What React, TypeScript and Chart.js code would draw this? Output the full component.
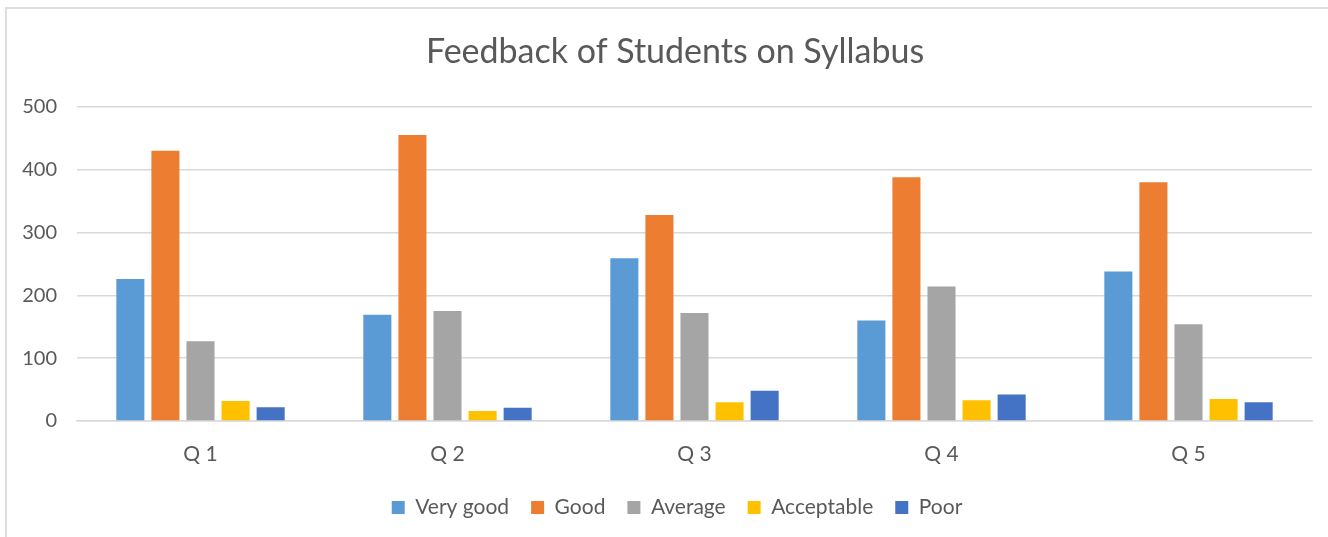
import React, { useEffect, useRef } from "react";
import { Chart, registerables } from "chart.js";

Chart.register(...registerables);

const categories = ["Q 1", "Q 2", "Q 3", "Q 4", "Q 5"];
const veryGood = [226, 169, 259, 160, 238];
const good = [430, 455, 328, 388, 380];
const average = [127, 175, 172, 214, 154];
const acceptable = [32, 16, 30, 33, 35];
const poor = [22, 21, 48, 42, 30];
const yTicks = [0, 100, 200, 300, 400, 500];

const seriesNames = ["Very good", "Good", "Average", "Acceptable", "Poor"];
const seriesColors = ["#5B9BD5", "#ED7D31", "#A5A5A5", "#FFC000", "#4472C4"];

const FONT = "Lato, 'Open Sans', sans-serif";
const TEXT = "#595959";

const shiftPlugin = {
  id: "shiftBlocks",
  afterLayout(chart: any) {
    const t = chart.titleBlock;
    if (t) {
      t.left += 19;
      t.right += 19;
    }
    const l = chart.legend;
    if (l) {
      l.left += 21;
      l.right += 21;
    }
  },
};

export default function App() {
  const ref = useRef<HTMLCanvasElement | null>(null);

  useEffect(() => {
    if (!ref.current) return;
    const values = [veryGood, good, average, acceptable, poor];
    const chart = new Chart(ref.current, {
      type: "bar",
      data: {
        labels: categories,
        datasets: seriesNames.map((name, i) => ({
          label: name,
          data: values[i],
          backgroundColor: seriesColors[i],
          borderWidth: 0,
          barPercentage: 0.8,
          categoryPercentage: 0.71,
        })),
      },
      plugins: [shiftPlugin],
      options: {
        animation: false,
        responsive: false,
        maintainAspectRatio: false,
        layout: { padding: { left: 0, right: 16, top: 0, bottom: 9 } },
        plugins: {
          title: {
            display: true,
            text: "Feedback of Students on Syllabus",
            color: TEXT,
            font: { family: FONT, size: 34, weight: "normal" },
            padding: { top: 32, bottom: 34 },
          },
          legend: {
            position: "bottom",
            labels: {
              color: TEXT,
              font: { family: FONT, size: 21 },
              boxWidth: 13,
              boxHeight: 13,
              padding: 22,
            },
          },
          tooltip: { enabled: false },
        },
        scales: {
          x: {
            grid: { display: false, drawTicks: false },
            border: { display: true, color: "#d9d9d9", width: 1.5 },
            ticks: {
              color: TEXT,
              font: { family: FONT, size: 21 },
              padding: 21,
            },
            afterFit: (scale: any) => {
              scale.height = 54;
            },
          },
          y: {
            min: 0,
            max: 500,
            afterBuildTicks: (scale: any) => {
              scale.ticks = yTicks.map((v) => ({ value: v }));
            },
            grid: { color: "#d9d9d9", lineWidth: 1.5, drawTicks: false },
            border: { display: false },
            ticks: {
              color: TEXT,
              font: { family: FONT, size: 20 },
              padding: 20,
            },
            afterFit: (scale: any) => {
              scale.width = 77;
            },
          },
        },
      },
    });
    return () => chart.destroy();
  }, []);

  return (
    <div
      style={{
        position: "fixed",
        left: 0,
        top: 0,
        width: 1328,
        height: 537,
        background: "#fff",
        overflow: "hidden",
      }}
    >
      <div
        style={{
          position: "absolute",
          left: 5,
          top: 7,
          width: 1400,
          height: 600,
          borderLeft: "2px solid #dedede",
          borderTop: "2px solid #dedede",
        }}
      />
      <canvas
        ref={ref}
        width={1328}
        height={537}
        style={{ position: "absolute", left: 0, top: 0 }}
      />
    </div>
  );
}
